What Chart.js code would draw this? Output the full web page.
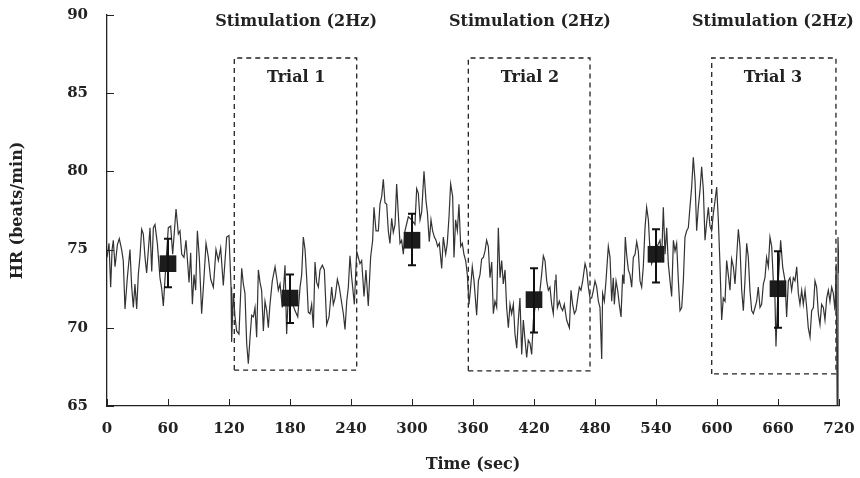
<!DOCTYPE html>
<html>
<head>
<meta charset="utf-8">
<script src="https://cdn.jsdelivr.net/npm/chart.js@4"></script>
<style>
  body { margin: 0; background: #fff; }
</style>
</head>
<body>
<canvas id="hrChart" width="860" height="478"></canvas>
<script>
// heart rate trace (sec, beats/min)
const timeSec = [
  0, 2, 3.6, 5, 6.2, 7.9, 10.2, 12.1, 14.4, 16, 17.7, 20, 22.6, 24.3, 25.9, 27.5, 29.2, 30.8, 32.5, 34.1,
  35.7, 37.4, 39, 42.3, 44, 45.6, 47.2, 49.5, 52.1, 53.8, 55.4, 58, 60.3, 62.6, 64.6, 67.9, 70.2, 71.8, 73.5, 75.7,
  77.7, 79.4, 80.7, 82.3, 84, 85.6, 87.2, 88.9, 90.8, 93.1, 95.4, 97.4, 99.7, 102, 104.6, 107.2, 109.5, 111.8, 114.4, 117.7,
  120, 122, 122.6, 124.3, 125.9, 127.5, 129.8, 132.5, 134.1, 135.7, 137.4, 139, 140.7, 142.3, 144, 145.6, 147.2, 148.9, 150.5, 152.1,
  153.8, 155.4, 157.1, 158.7, 160.3, 162.6, 165.3, 166.9, 168.5, 170.2, 172.5, 175.1, 176.7, 178.4, 181.7, 184.9, 187.6, 189.9, 191.5, 193.1,
  194.8, 196.4, 198, 199.7, 201.3, 203, 204.6, 206.2, 207.9, 209.5, 211.8, 213.8, 216.1, 218.4, 221, 222.6, 224.3, 226.6, 228.5, 230.8,
  232.5, 234.1, 235.8, 237.4, 239, 240.7, 243.3, 245.6, 247.2, 248.8, 250.5, 252.8, 254.7, 257, 259.3, 261.3, 262.6, 264.6, 266.9, 268.5,
  270.2, 271.8, 273.4, 275.1, 276.7, 278.3, 280, 281.6, 283.3, 284.9, 286.5, 288.2, 289.8, 291.5, 293.1, 296.4, 299.7, 302.9, 304.6, 306.2,
  307.9, 309.5, 311.8, 313.8, 315.1, 317, 318.7, 320.3, 322, 323.6, 325.2, 326.9, 329.2, 330.8, 333.1, 334.7, 336.4, 338, 340, 341.3,
  342.9, 344.6, 346.2, 347.9, 349.5, 351.1, 352.8, 354.4, 356.1, 357.7, 359.3, 361, 363.6, 365.3, 366.9, 368.5, 370.2, 371.8, 373.4, 375.1,
  376.7, 378.4, 380, 381.6, 383.3, 384.9, 386.6, 388.2, 389.8, 391.5, 393.1, 394.8, 396.4, 398, 399.7, 401.3, 403, 404.6, 406.2, 407.9,
  409.5, 411.2, 412.8, 414.4, 416.1, 417.7, 419.4, 421, 422.6, 424.3, 425.9, 427.5, 429.2, 430.8, 432.5, 434.1, 435.7, 437.4, 439, 440.7,
  441.6, 443, 444.9, 446.6, 448.2, 449.8, 452.1, 454.8, 456.4, 458, 459.7, 461.3, 463, 464.6, 466.2, 467.9, 470.2, 471.8, 473.5, 475.1,
  476.7, 478.4, 480, 481.7, 483.3, 484.9, 486.6, 487.5, 489.2, 490.8, 493.1, 494.8, 496.4, 498, 499, 500.7, 502.3, 503.9, 505.6, 507.2,
  508.5, 509.8, 511.1, 512.8, 514.4, 516.1, 517.7, 519.4, 521, 522.6, 524.3, 525.9, 527.5, 529.2, 530.8, 532.5, 534.1, 535.7, 539, 543.9,
  545.6, 547.2, 548.9, 550.5, 552.1, 553.8, 555.4, 557.1, 558.7, 560.3, 562, 563.6, 565.3, 566.9, 568.5, 570.2, 571.8, 573.4, 575.1, 576.7,
  578.4, 580, 581.6, 583.3, 584.9, 586.6, 588.2, 589.8, 591.5, 593.1, 594.7, 596.4, 598, 599.7, 601.3, 602.9, 604.6, 606.2, 607.9, 609.5,
  611.1, 612.8, 614.4, 616.1, 617.7, 619.3, 621, 622.6, 624.3, 625.9, 627.5, 629.2, 630.8, 632.4, 634.1, 635.7, 637.4, 639, 640.6, 642.3,
  643.9, 645.6, 647.2, 648.8, 650.5, 652.1, 653.8, 655.4, 657, 658, 660.3, 662.6, 664.6, 666.9, 668.5, 670.2, 671.8, 673.4, 675.1, 676.7,
  678.4, 680, 681.6, 683.3, 684.9, 686.6, 688.2, 689.8, 691.5, 693.1, 694.8, 696.4, 698, 699.7, 701.3, 702.9, 704.6, 706.2, 707.9, 709.5,
  711.1, 712.8, 714.4, 716.1, 717.2, 718.2, 719, 720
];
const heartRate = [
  74.5, 75.4, 72.6, 75.0, 75.6, 73.9, 75.3, 75.7, 75.0, 74.3, 71.2, 73.2, 75.0, 72.6, 71.3, 72.8, 71.2, 73.4, 74.6, 76.3,
  76.0, 74.5, 73.5, 76.4, 73.6, 76.4, 76.6, 75.4, 73.2, 72.5, 71.4, 74.1, 76.4, 76.5, 74.7, 77.6, 76.0, 76.2, 74.7, 74.5,
  75.6, 74.1, 72.9, 74.8, 71.5, 73.4, 72.4, 76.2, 74.5, 70.9, 73.2, 75.4, 74.5, 73.1, 72.6, 75.0, 74.3, 75.1, 72.7, 75.8,
  75.9, 72.6, 69.1, 72.2, 70.7, 69.8, 69.6, 73.8, 72.8, 72.2, 69.0, 67.7, 69.4, 70.8, 70.7, 71.3, 69.4, 73.7, 72.9, 72.4,
  69.8, 71.7, 71.1, 70.0, 71.5, 73.0, 73.9, 73.2, 72.4, 72.8, 71.3, 74.0, 69.6, 72.2, 71.7, 71.1, 70.7, 72.6, 73.4, 75.8,
  75.0, 73.2, 71.0, 70.9, 71.5, 70.0, 74.2, 72.9, 72.6, 73.7, 74.0, 73.7, 70.2, 70.7, 72.6, 71.5, 71.9, 73.1, 72.6, 71.6,
  70.9, 69.9, 71.7, 72.6, 74.6, 73.2, 71.5, 74.9, 74.5, 74.1, 74.3, 72.0, 73.7, 71.4, 74.5, 75.6, 77.7, 76.2, 76.2, 77.9,
  78.4, 79.5, 78.0, 77.9, 76.2, 75.4, 77.0, 76.1, 76.6, 79.2, 77.3, 75.4, 75.6, 74.7, 76.2, 77.1, 76.9, 76.6, 78.9, 78.6,
  76.9, 77.4, 80.0, 78.1, 77.4, 75.5, 76.9, 76.2, 75.8, 75.6, 75.2, 75.4, 73.8, 75.8, 74.7, 75.4, 77.1, 79.2, 78.4, 74.5,
  76.9, 76.2, 77.9, 75.2, 75.4, 74.7, 74.3, 73.4, 71.5, 72.6, 73.9, 73.0, 70.8, 73.0, 73.4, 74.4, 74.5, 74.9, 75.6, 75.2,
  73.2, 74.2, 70.9, 71.7, 71.3, 76.4, 73.2, 74.3, 72.8, 73.7, 71.3, 70.0, 71.5, 70.9, 71.5, 69.6, 68.7, 70.5, 71.9, 68.3,
  70.5, 69.2, 68.1, 69.2, 69.0, 68.3, 70.5, 71.3, 71.9, 71.3, 72.4, 73.4, 74.6, 74.3, 73.0, 72.4, 72.6, 71.5, 70.9, 73.0,
  73.4, 71.3, 71.7, 71.3, 71.1, 71.5, 70.5, 70.0, 72.4, 71.5, 70.9, 71.1, 71.9, 72.6, 72.4, 73.0, 74.1, 73.7, 72.6, 71.9,
  71.9, 72.4, 73.0, 72.6, 71.7, 71.3, 68.0, 72.2, 71.7, 73.0, 75.2, 74.5, 71.7, 73.2, 71.5, 73.0, 72.4, 71.5, 70.7, 73.4,
  72.8, 75.8, 74.7, 73.7, 73.4, 72.6, 74.5, 74.7, 75.5, 74.9, 73.0, 72.6, 73.9, 76.4, 77.7, 76.9, 74.9, 74.1, 74.9, 75.6,
  74.5, 77.7, 74.7, 76.4, 74.1, 73.0, 72.0, 75.6, 74.9, 75.4, 73.0, 71.1, 71.3, 73.0, 75.8, 76.2, 76.4, 77.7, 79.0, 80.9,
  79.4, 76.2, 77.7, 78.8, 80.3, 78.8, 75.6, 76.7, 77.7, 76.5, 76.2, 77.3, 78.1, 79.0, 76.9, 74.1, 70.5, 71.9, 71.7, 74.3,
  73.4, 72.4, 74.4, 73.9, 72.8, 74.5, 76.3, 75.2, 72.4, 71.1, 73.0, 75.4, 74.5, 72.4, 71.1, 70.9, 71.3, 71.7, 72.6, 71.3,
  71.5, 72.8, 73.2, 74.5, 73.9, 75.8, 75.2, 73.0, 71.9, 68.8, 73.0, 75.6, 73.9, 73.0, 70.7, 73.0, 73.2, 72.4, 73.2, 73.0,
  73.9, 72.2, 71.5, 72.4, 71.5, 72.4, 71.3, 70.0, 69.4, 71.1, 71.3, 73.0, 72.6, 70.9, 70.2, 71.5, 71.3, 70.5, 71.9, 72.4,
  71.7, 72.6, 72.2, 71.1, 74.1, 65.0, 75.8, 73.5
];

// block means with error bars
const blockTime = [60, 180, 300, 420, 540, 660];
const blockMean = [74.1, 71.9, 75.6, 71.8, 74.7, 72.5];
const blockHigh = [75.7, 73.4, 77.3, 73.8, 76.3, 74.9];
const blockLow = [72.6, 70.3, 74.0, 69.7, 72.9, 70.0];

// stimulation windows (dashed boxes)
const trialNames = ["Trial 1", "Trial 2", "Trial 3"];
const trialStart = [125.2, 355.4, 594.8];
const trialEnd = [245.6, 475.1, 717];
const trialTop = [87.25, 87.25, 87.25];
const trialBottom = [67.3, 67.25, 67.05];
const stimText = "Stimulation (2Hz)";
const labelCentre = [186, 416, 655];

const font = "DejaVu Serif";
const ink = "#222";

const trace = timeSec.map((t, i) => ({ x: t, y: heartRate[i] }));
const means = blockTime.map((t, i) => ({ x: t, y: blockMean[i] }));

const boxSets = trialNames.map((name, i) => ({
  label: name,
  data: [
    { x: trialStart[i], y: trialBottom[i] },
    { x: trialStart[i], y: trialTop[i] },
    { x: trialEnd[i], y: trialTop[i] },
    { x: trialEnd[i], y: trialBottom[i] },
    { x: trialStart[i], y: trialBottom[i] },
  ],
  borderColor: ink,
  borderWidth: 1.3,
  borderDash: [5, 4],
  pointRadius: 0,
  fill: false,
  order: 3,
}));

// keep tick labels from pushing the plot area around
const noOverhang = (s) => {
  s.paddingLeft = 0;
  s.paddingRight = 0;
  s.paddingTop = 0;
  s.paddingBottom = 0;
};

// inward ticks, error bars and the text over the plot
const extras = {
  id: "extras",
  afterDatasetsDraw(chart) {
    const { ctx, scales: { x, y }, chartArea: area } = chart;
    ctx.save();
    ctx.strokeStyle = ink;
    ctx.lineWidth = 1;
    for (let v = 65; v <= 90; v += 5) {
      const py = Math.round(y.getPixelForValue(v)) + 0.5;
      ctx.beginPath();
      ctx.moveTo(area.left, py);
      ctx.lineTo(area.left + 7, py);
      ctx.stroke();
    }
    for (let v = 0; v <= 720; v += 60) {
      const px = Math.round(x.getPixelForValue(v)) + 0.5;
      ctx.beginPath();
      ctx.moveTo(px, area.bottom);
      ctx.lineTo(px, area.bottom - 7);
      ctx.stroke();
    }

    ctx.strokeStyle = "#111";
    ctx.lineWidth = 2;
    blockTime.forEach((t, i) => {
      const px = x.getPixelForValue(t);
      const top = y.getPixelForValue(blockHigh[i]);
      const bot = y.getPixelForValue(blockLow[i]);
      ctx.beginPath();
      ctx.moveTo(px, top);
      ctx.lineTo(px, bot);
      ctx.moveTo(px - 4, top);
      ctx.lineTo(px + 4, top);
      ctx.moveTo(px - 4, bot);
      ctx.lineTo(px + 4, bot);
      ctx.stroke();
    });

    ctx.fillStyle = ink;
    ctx.font = "bold 16px '" + font + "'";
    ctx.textAlign = "center";
    ctx.textBaseline = "middle";
    labelCentre.forEach((t, i) => {
      const px = x.getPixelForValue(t);
      ctx.fillText(stimText, px, y.getPixelForValue(89.55));
      ctx.fillText(trialNames[i], px, y.getPixelForValue(86.0));
    });
    ctx.restore();
  },
};

new Chart(document.getElementById("hrChart"), {
  type: "line",
  data: {
    datasets: [
      {
        label: "HR",
        data: trace,
        borderColor: "#333",
        borderWidth: 1.2,
        pointRadius: 0,
        tension: 0,
        fill: false,
        order: 2,
      },
      {
        label: "Mean",
        data: means,
        showLine: false,
        pointStyle: "rect",
        pointRadius: 11.8,
        backgroundColor: "#1c1c1c",
        borderColor: "#1c1c1c",
        borderWidth: 0,
        order: 0,
      },
      ...boxSets,
    ],
  },
  options: {
    responsive: false,
    animation: false,
    devicePixelRatio: 1,
    layout: { padding: { top: 15, right: 21, left: 0, bottom: 0 } },
    plugins: {
      legend: { display: false },
      tooltip: { enabled: false },
    },
    scales: {
      x: {
        type: "linear",
        min: 0,
        max: 720,
        afterFit: (s) => { s.height = 72; noOverhang(s); },
        grid: { display: false, drawTicks: false },
        border: { display: true, color: ink, width: 1.3 },
        ticks: {
          stepSize: 60,
          padding: 14,
          color: ink,
          font: { family: font, size: 15, weight: "bold" },
        },
        title: {
          display: true,
          text: "Time (sec)",
          color: ink,
          padding: { top: 0, bottom: 4 },
          font: { family: font, size: 16, weight: "bold" },
        },
      },
      y: {
        min: 65,
        max: 90,
        afterFit: (s) => { s.width = 107; noOverhang(s); },
        grid: { display: false, drawTicks: false },
        border: { display: true, color: ink, width: 1.3 },
        ticks: {
          stepSize: 5,
          padding: 19,
          color: ink,
          font: { family: font, size: 15, weight: "bold" },
        },
        title: {
          display: true,
          text: "HR (beats/min)",
          color: ink,
          padding: { top: 8, bottom: 0 },
          font: { family: font, size: 16, weight: "bold" },
        },
      },
    },
  },
  plugins: [extras],
});
</script>
</body>
</html>
